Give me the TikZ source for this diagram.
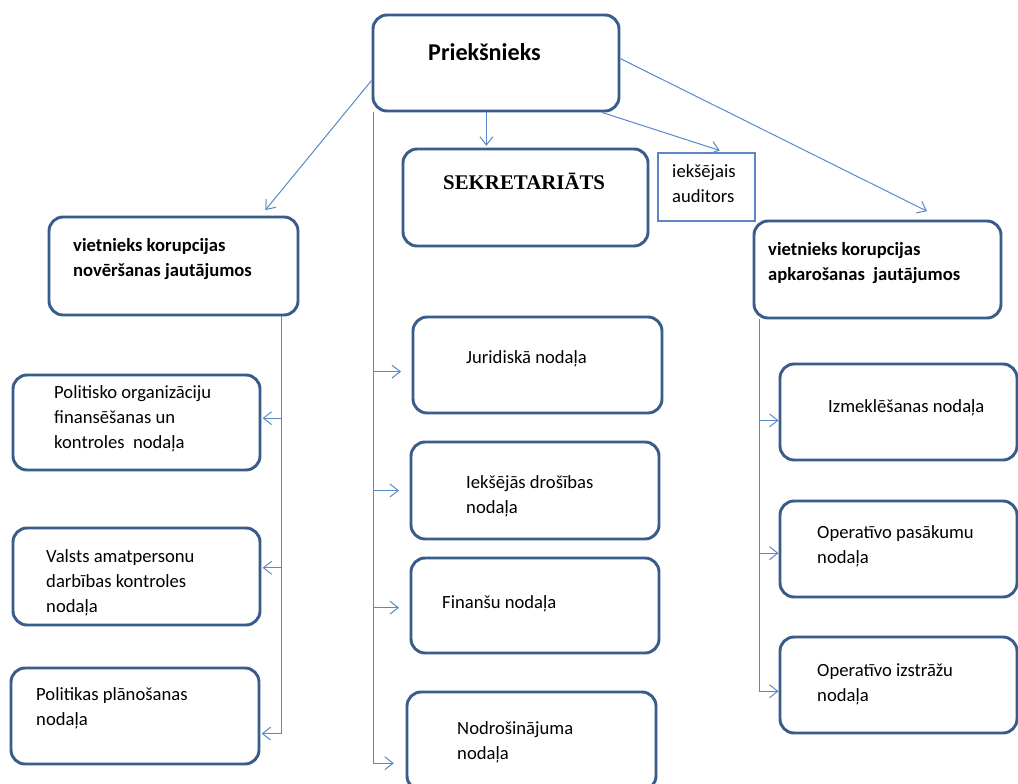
\documentclass[tikz,border=0pt]{standalone}
\usepackage{fontspec}
\setmainfont{Carlito}
\newfontfamily\timesbf{Liberation Serif}
\usetikzlibrary{arrows.meta}
\definecolor{boxblue}{RGB}{56,93,138}
\definecolor{lineblue}{RGB}{88,137,198}
\tikzset{
  box/.style={draw=boxblue, line width=2.5pt, rounded corners=12pt, inner sep=0pt},
  sz/.style 2 args={minimum width=#1*0.03cm, minimum height=#2*0.03cm},
  txt/.style={inner sep=0pt, anchor=base west, align=left, font=\fontsize{15.9pt}{21.3pt}\selectfont},
  bold/.style={txt, font=\fontsize{15.9pt}{21.3pt}\selectfont\bfseries},
  conn/.style={draw=lineblue, line width=0.85pt, -{Straight Barb[length=7pt,width=11pt]}}
}
\begin{document}
\begin{tikzpicture}[x=0.03cm, y=-0.03cm]
	\clip (0,0) rectangle (1018,783);
	\fill[white] (0,0) rectangle (1018,783);

	% boxes
	\node[box, sz={246}{96}] (boss) at (496,63) {};
	\node[box, sz={245}{97}] (sekr) at (525.5,197.5) {};
	\node[draw=lineblue, line width=2.5pt, inner sep=0pt, sz={97}{68}] (aud) at (706.5,187) {};
	\node[box, sz={249}{98}] (depL) at (173.5,266) {};
	\node[box, sz={247}{97}] (depR) at (877.5,269.5) {};
	\node[box, sz={247}{95}] (L1) at (136.5,422.5) {};
	\node[box, sz={247}{97}] (L2) at (136.5,576.5) {};
	\node[box, sz={248}{96}] (L3) at (135,716) {};
	\node[box, sz={249}{96}] (M1) at (537.5,365) {};
	\node[box, sz={248}{97}] (M2) at (535,490.5) {};
	\node[box, sz={248}{95}] (M3) at (535,605.5) {};
	\node[box, sz={249}{98}] (M4) at (531.5,741) {};
	\node[box, sz={237}{96}] (R1) at (898.5,412) {};
	\node[box, sz={237}{96}] (R2) at (898.5,549) {};
	\node[box, sz={237}{96}] (R3) at (898.5,685) {};

	% texts (multi-line ones sit on their last baseline)
	\node[txt, font=\fontsize{20.6pt}{24pt}\selectfont\bfseries] (tboss) at (428,60) {Priekšnieks};
	\node[txt, font=\fontsize{17.8pt}{21pt}\selectfont\timesbf\bfseries] (tsekr) at (443,189) {SEKRETARIĀTS};
	\node[txt] (taud) at (672,202) {iekšējais\\auditors};
	\node[bold] (tdepL) at (73,276) {vietnieks korupcijas\\novēršanas jautājumos};
	\node[bold] (tdepR) at (768,280) {vietnieks korupcijas\\apkarošanas\ \ jautājumos};
	\node[txt] (tL1) at (54,448) {Politisko organizāciju\\finansēšanas un\\kontroles\ \ nodaļa};
	\node[txt] (tL2) at (46,612) {Valsts amatpersonu\\darbības kontroles\\nodaļa};
	\node[txt] (tL3) at (36,725) {Politikas plānošanas\\nodaļa};
	\node[txt] (tM1) at (466,363) {Juridiskā nodaļa};
	\node[txt] (tM2) at (466,513) {Iekšējās drošības\\nodaļa};
	\node[txt] (tM3) at (442,608) {Finanšu nodaļa};
	\node[txt] (tM4) at (457,759) {Nodrošinājuma\\nodaļa};
	\node[txt] (tR1) at (828,412) {Izmeklēšanas nodaļa};
	\node[txt] (tR2) at (817,563) {Operatīvo pasākumu\\nodaļa};
	\node[txt] (tR3) at (817,701) {Operatīvo izstrāžu\\nodaļa};

	% from the head
	\draw[conn, shorten >=6pt] (boss.188) -- (depL.30);
	\draw[conn, shorten >=1.5pt] (boss.259) -- (boss.259 |- sekr.north);
	\draw[conn, shorten >=3pt] (boss.335) -- (aud.65);
	\draw[conn, shorten >=16pt] (boss.2) -- (depR.37);

	% middle column
	\draw[conn, shorten >=10pt] (boss.202.8) |- (M4.190);
	\draw[conn, shorten >=9pt] (boss.202.8 |- M1.183) -- (M1.183);
	\draw[conn, shorten >=9pt] (boss.202.8 |- M2.west) -- (M2.west);
	\draw[conn, shorten >=9pt] (boss.202.8 |- M3.181) -- (M3.181);

	% left deputy
	\draw[conn, shorten >=1pt] (depL.335) |- (L3.352);
	\draw[conn, shorten >=1pt] (depL.335 |- L1.2) -- (L1.2);
	\draw[conn, shorten >=1pt] (depL.335 |- L2.4) -- (L2.4);

	% right deputy
	\draw[conn] (depR.203.5) |- (R3.183.5);
	\draw[conn] (depR.203.5 |- R1.184) -- (R1.184);
	\draw[conn] (depR.203.5 |- R2.182) -- (R2.182);
\end{tikzpicture}
\end{document}
